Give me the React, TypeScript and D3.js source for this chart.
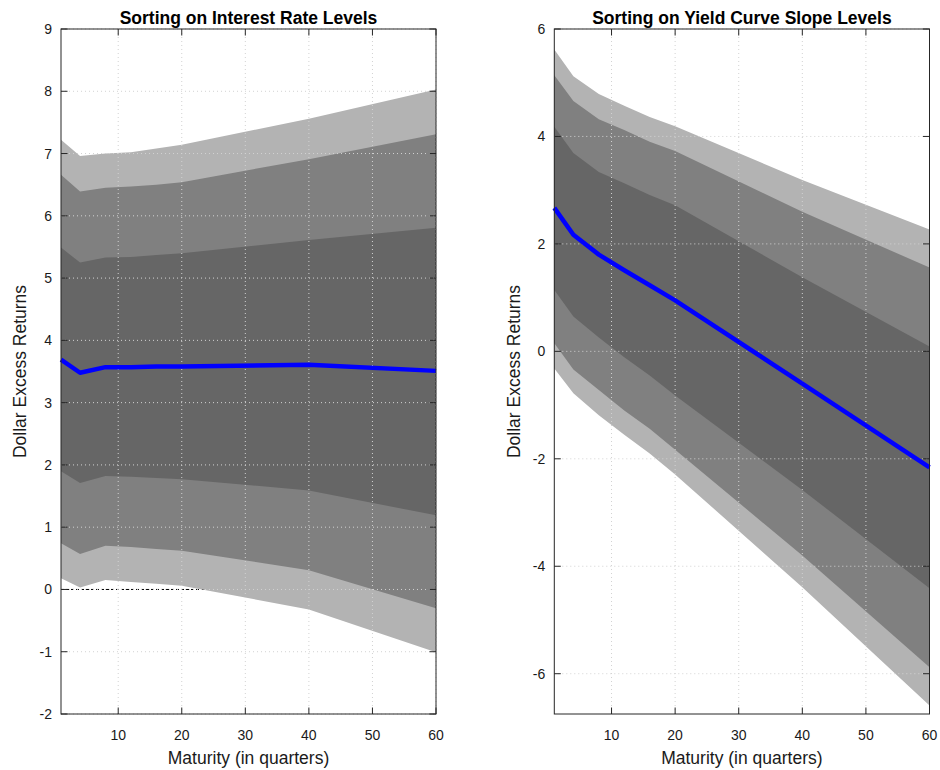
import React from "react";
import * as d3 from "d3";

// Maturities (quarters)
const maturities = [1, 4, 8, 12, 16, 20, 40, 60];

// Left panel: Sorting on Interest Rate Levels
const leftLightTop = [7.22, 6.96, 7.0, 7.02, 7.08, 7.14, 7.56, 8.03];
const leftMidTop = [6.66, 6.39, 6.45, 6.47, 6.5, 6.54, 6.91, 7.31];
const leftDarkTop = [5.49, 5.25, 5.33, 5.34, 5.37, 5.4, 5.61, 5.81];
const leftMean = [3.69, 3.48, 3.57, 3.57, 3.58, 3.58, 3.61, 3.51];
const leftDarkBot = [1.9, 1.71, 1.82, 1.81, 1.79, 1.77, 1.59, 1.19];
const leftMidBot = [0.74, 0.57, 0.7, 0.68, 0.65, 0.62, 0.31, -0.3];
const leftLightBot = [0.18, 0.03, 0.15, 0.12, 0.09, 0.06, -0.32, -1.01];

// Right panel: Sorting on Yield Curve Slope Levels
const rightLightTop = [5.62, 5.12, 4.79, 4.57, 4.36, 4.19, 3.19, 2.27];
const rightMidTop = [5.14, 4.66, 4.32, 4.12, 3.9, 3.73, 2.6, 1.56];
const rightDarkTop = [4.18, 3.69, 3.34, 3.13, 2.91, 2.72, 1.38, 0.09];
const rightMean = [2.67, 2.17, 1.8, 1.51, 1.23, 0.95, -0.6, -2.16];
const rightDarkBot = [1.14, 0.65, 0.26, -0.11, -0.45, -0.82, -2.58, -4.41];
const rightMidBot = [0.15, -0.34, -0.72, -1.1, -1.44, -1.83, -3.8, -5.88];
const rightLightBot = [-0.32, -0.78, -1.19, -1.55, -1.9, -2.29, -4.39, -6.59];

const xTicks = [10, 20, 30, 40, 50, 60];
const leftYTicks = [-2, -1, 0, 1, 2, 3, 4, 5, 6, 7, 8, 9];
const rightYTicks = [-6, -4, -2, 0, 2, 4, 6];

const FONT = "Liberation Sans, Arial, Helvetica, sans-serif";

type PanelProps = {
  left: number;
  right: number;
  top: number;
  bottom: number;
  yDomain: [number, number];
  yTicks: number[];
  title: string;
  bands: { top: number[]; bot: number[]; color: string }[];
  mean: number[];
  zeroLine: boolean;
  ylabelX: number;
};

function Panel(p: PanelProps) {
  const x = d3.scaleLinear().domain([1, 60]).range([p.left, p.right]);
  const y = d3.scaleLinear().domain(p.yDomain).range([p.bottom, p.top]);
  const cx = (p.left + p.right) / 2;
  const cy = (p.top + p.bottom) / 2;
  const tick = 6.5;
  const axisColor = "#262626";

  const line = d3
    .line<number>()
    .x((_, i) => x(maturities[i]))
    .y((d) => y(d));

  return (
    <g>
      {p.zeroLine && (
        <line
          x1={x(1)}
          x2={x(60)}
          y1={y(0)}
          y2={y(0)}
          stroke="#000"
          strokeWidth={1}
          strokeDasharray="3,2"
        />
      )}
      {p.bands.map((b, k) => {
        const area = d3
          .area<number>()
          .x((m) => x(m))
          .y0((_, i) => y(b.bot[i]))
          .y1((_, i) => y(b.top[i]));
        return <path key={k} d={area(maturities) || ""} fill={b.color} stroke="none" />;
      })}
      {/* grid */}
      {xTicks.map((t) => (
        <line
          key={"gx" + t}
          x1={x(t)}
          x2={x(t)}
          y1={p.top}
          y2={p.bottom}
          stroke="#d2d2d2"
          strokeWidth={1}
          strokeDasharray="1,3"
        />
      ))}
      {p.yTicks.map((t) => (
        <line
          key={"gy" + t}
          x1={p.left}
          x2={p.right}
          y1={y(t)}
          y2={y(t)}
          stroke="#d2d2d2"
          strokeWidth={1}
          strokeDasharray="1,3"
        />
      ))}
      <path d={line(p.mean) || ""} fill="none" stroke="#0000ff" strokeWidth={4.5} strokeLinejoin="round" />
      {/* box */}
      <rect
        x={p.left}
        y={p.top}
        width={p.right - p.left}
        height={p.bottom - p.top}
        fill="none"
        stroke={axisColor}
        strokeWidth={1}
      />
      {xTicks.map((t) => (
        <g key={"tx" + t}>
          <line x1={x(t)} x2={x(t)} y1={p.bottom} y2={p.bottom - tick} stroke={axisColor} />
          <line x1={x(t)} x2={x(t)} y1={p.top} y2={p.top + tick} stroke={axisColor} />
          <text
            x={x(t)}
            y={p.bottom + 26}
            textAnchor="middle"
            fontSize={14}
            fontFamily={FONT}
            fill="#1a1a1a"
          >
            {t}
          </text>
        </g>
      ))}
      {p.yTicks.map((t) => (
        <g key={"ty" + t}>
          <line x1={p.left} x2={p.left + tick} y1={y(t)} y2={y(t)} stroke={axisColor} />
          <line x1={p.right} x2={p.right - tick} y1={y(t)} y2={y(t)} stroke={axisColor} />
          <text
            x={p.left - 9}
            y={y(t) + 5}
            textAnchor="end"
            fontSize={14}
            fontFamily={FONT}
            fill="#1a1a1a"
          >
            {t}
          </text>
        </g>
      ))}
      <text
        x={cx}
        y={23.5}
        textAnchor="middle"
        fontSize={17.5}
        fontWeight="bold"
        fontFamily={FONT}
        fill="#000"
      >
        {p.title}
      </text>
      <text
        x={cx}
        y={764}
        textAnchor="middle"
        fontSize={17.5}
        fontFamily={FONT}
        fill="#1a1a1a"
      >
        Maturity (in quarters)
      </text>
      <text
        transform={`translate(${p.ylabelX},${cy}) rotate(-90)`}
        textAnchor="middle"
        fontSize={17.5}
        fontFamily={FONT}
        fill="#1a1a1a"
      >
        Dollar Excess Returns
      </text>
    </g>
  );
}

export default function App() {
  const light = "#b3b3b3";
  const mid = "#808080";
  const dark = "#666666";
  return (
    <svg
      width={940}
      height={770}
      style={{ position: "absolute", left: 0, top: 0, background: "#fff" }}
    >
      <rect x={0} y={0} width={940} height={770} fill="#fff" />
      <Panel
        left={61}
        right={436}
        top={29}
        bottom={714}
        yDomain={[-2, 9]}
        yTicks={leftYTicks}
        title="Sorting on Interest Rate Levels"
        bands={[
          { top: leftLightTop, bot: leftLightBot, color: light },
          { top: leftMidTop, bot: leftMidBot, color: mid },
          { top: leftDarkTop, bot: leftDarkBot, color: dark },
        ]}
        mean={leftMean}
        zeroLine={true}
        ylabelX={26}
      />
      <Panel
        left={554.3}
        right={929.5}
        top={29}
        bottom={714}
        yDomain={[-6.75, 6]}
        yTicks={rightYTicks}
        title="Sorting on Yield Curve Slope Levels"
        bands={[
          { top: rightLightTop, bot: rightLightBot, color: light },
          { top: rightMidTop, bot: rightMidBot, color: mid },
          { top: rightDarkTop, bot: rightDarkBot, color: dark },
        ]}
        mean={rightMean}
        zeroLine={true}
        ylabelX={520}
      />
    </svg>
  );
}
